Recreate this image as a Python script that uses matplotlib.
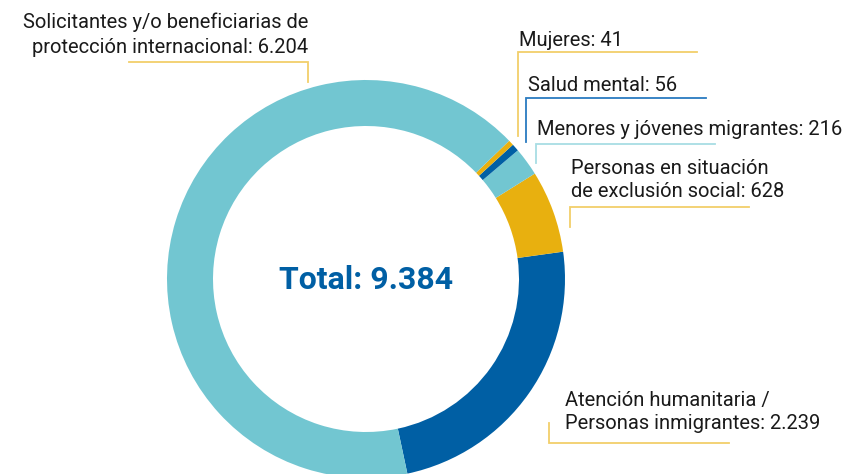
import matplotlib.pyplot as plt

# Datos del gráfico
categorias = ["Atención humanitaria /\nPersonas inmigrantes",
              "Personas en situación\nde exclusión social",
              "Menores y jóvenes migrantes",
              "Salud mental",
              "Mujeres",
              "Solicitantes y/o beneficiarias de\nprotección internacional"]
valores = [2239, 628, 216, 56, 41, 6204]
colores = ["#005FA4", "#E8B00F", "#72C6D1", "#005FA4", "#E8B00F", "#72C6D1"]
colores_linea = ["#F2CF6A", "#F2CF6A", "#A8DDE4", "#2A7BC0", "#F2CF6A", "#F2CF6A"]

W, H = 867, 474


def fmt(v):
    """Separador de miles al estilo español."""
    return f"{v:,}".replace(",", ".")


def Y(y):
    # coordenadas de imagen (y hacia abajo) -> coordenadas del eje
    return H - y


# posicion de los textos: (x, baselines, alineacion) y lineas guia
textos = [
    (565, [406, 429], "left"),
    (571, [174, 197], "left"),
    (537, [135], "left"),
    (528, [91], "left"),
    (519, [46], "left"),
    (308, [28, 53], "right"),
]
guias = [
    [(549, 423), (549, 443), (729, 443)],
    [(570, 227), (570, 207), (749, 207)],
    [(536, 163), (536, 144), (715, 144)],
    [(526, 142), (526, 98), (706, 98)],
    [(518, 136), (518, 52), (697, 52)],
    [(129, 62), (308, 62), (308, 82)],
]

fig = plt.figure(figsize=(W / 100, H / 100), dpi=100)
ax = fig.add_axes([0, 0, 1, 1])

ax.pie(valores, colors=colores, startangle=-78, counterclock=True,
       center=(366, Y(279)), radius=199,
       wedgeprops=dict(width=46, linewidth=0))

ax.set_xlim(0, W)
ax.set_ylim(0, H)
ax.set_aspect("equal")
ax.axis("off")

for cat, v, (x, bases, ha), guia, lc in zip(categorias, valores, textos, guias, colores_linea):
    lineas = (cat + ": " + fmt(v)).split("\n")
    for linea, b in zip(lineas, bases):
        ax.text(x, Y(b), linea, ha=ha, va="baseline", fontsize=14.5,
                family="Roboto", color="#1A1A1A")
    xs = [p[0] for p in guia]
    ys = [Y(p[1]) for p in guia]
    ax.plot(xs, ys, color=lc, linewidth=1.3, solid_joinstyle="miter")

ax.text(366.5, Y(289), "Total: " + fmt(sum(valores)), ha="center", va="baseline",
        fontsize=23, fontweight="bold", family="Roboto", color="#005FA4")

plt.savefig("out.png", dpi=100)
